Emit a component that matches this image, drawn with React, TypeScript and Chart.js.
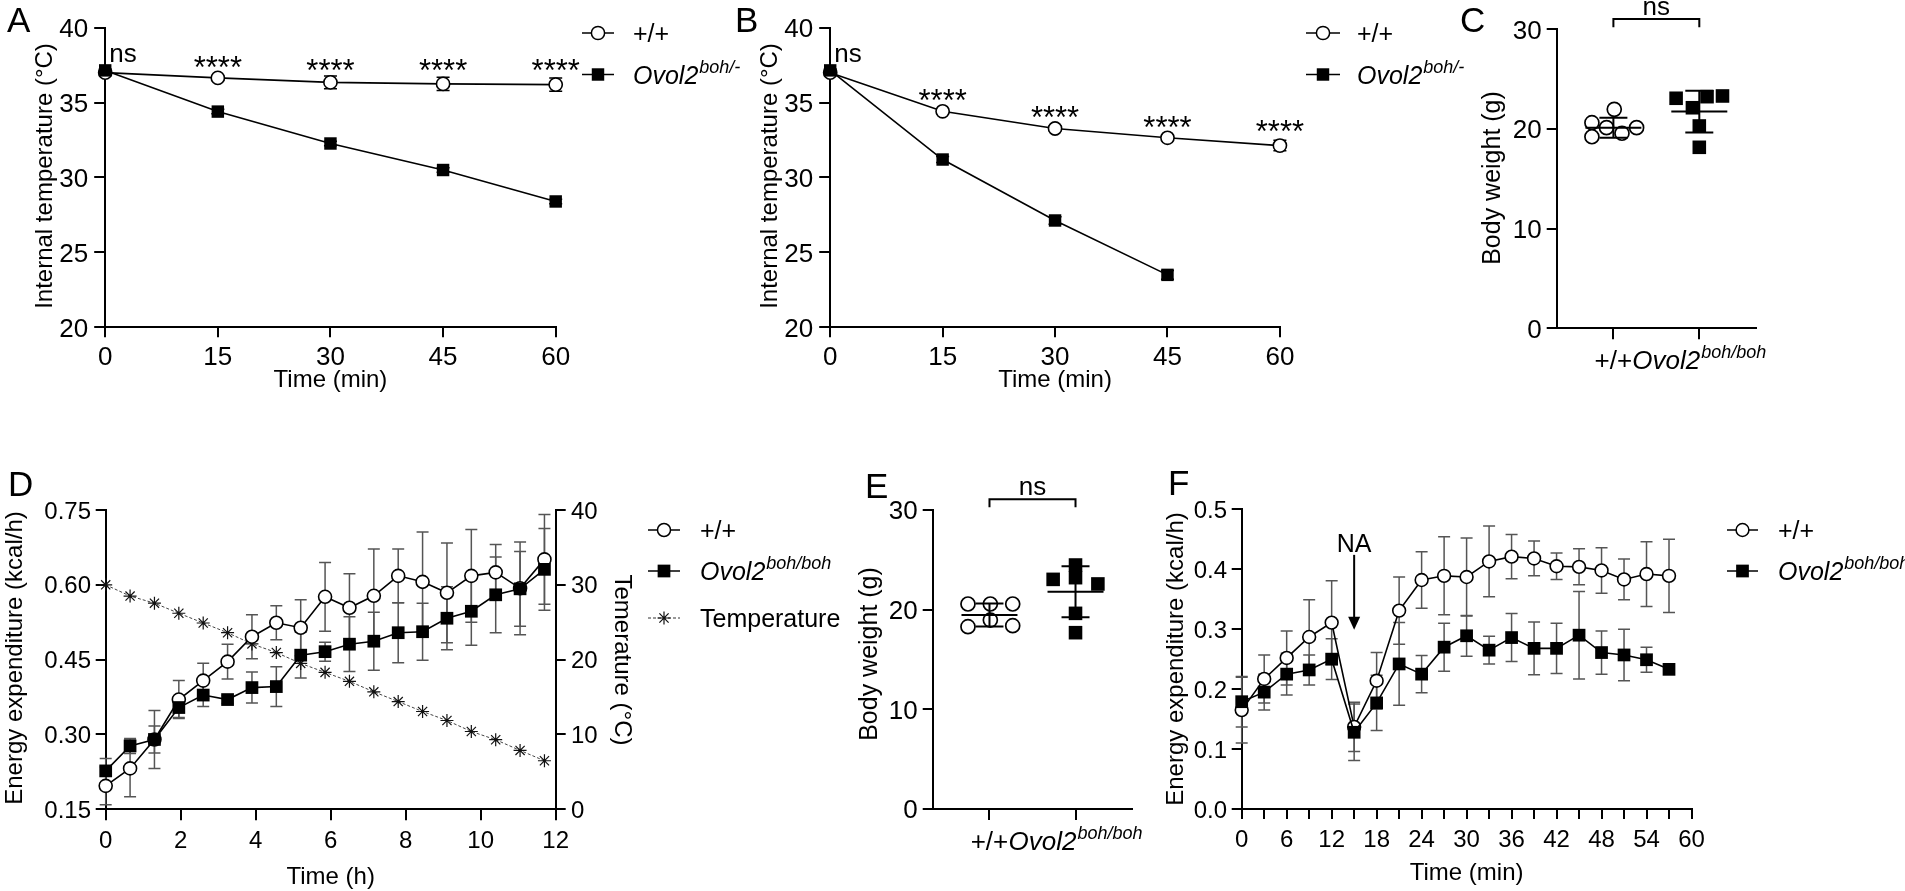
import React, { useEffect, useRef } from 'react';
import { Chart, registerables } from 'chart.js';
Chart.register(...registerables);

const W = 1905;
const H = 891;
const FONT = '"Liberation Sans", Arial, Helvetica, sans-serif';

// ---------- Panel A / B ----------
const abXTicks = [0, 15, 30, 45, 60];
const abXLabels = ['0', '15', '30', '45', '60'];
const abYTicks = [20, 25, 30, 35, 40];
const abYLabels = ['20', '25', '30', '35', '40'];
const tAB = [0, 15, 30, 45, 60];
const aWT = [37.0, 36.65, 36.35, 36.25, 36.2];
const aWTsd = [0.1, 0.15, 0.42, 0.45, 0.45];
const aKO = [37.15, 34.4, 32.27, 30.5, 28.4];
const aKOsd = [0.1, 0.15, 0.15, 0.15, 0.15];
const aStarX = [15, 30, 45, 60];
const aStarY = [37.84, 37.65, 37.65, 37.65];
const tBKO = [0, 15, 30, 45];
const bWT = [37.0, 34.42, 33.27, 32.65, 32.13];
const bWTsd = [0.1, 0.15, 0.15, 0.15, 0.35];
const bKO = [37.15, 31.2, 27.13, 23.5];
const bKOsd = [0.1, 0.2, 0.25, 0.3];
const bStarX = [15, 30, 45, 60];
const bStarY = [35.66, 34.51, 33.84, 33.55];

// ---------- Panel C / E ----------
const ceXTicks = [0, 1];
const ceYTicks = [0, 10, 20, 30];
const ceYLabels = ['0', '10', '20', '30'];
const cWTdx = [-0.25, -0.25, -0.08, 0.01, 0.1, 0.27];
const cWT = [20.63, 19.22, 20.13, 21.97, 19.57, 20.13];
const cKOdx = [-0.27, -0.08, 0.09, 0.27, 0.0, 0.0];
const cKO = [23.08, 22.13, 23.24, 23.31, 20.3, 18.16];
const cMean = [20.13, 21.74];
const cSD = [1.0, 2.1];
const eWTdx = [-0.25, 0.01, 0.27, 0.01, -0.25, 0.27];
const eWT = [20.57, 20.57, 20.57, 18.96, 18.29, 18.39];
const eKOdx = [-0.26, 0.0, 0.0, 0.26, 0.0, 0.0];
const eKO = [23.04, 24.48, 23.21, 22.58, 19.63, 17.69];
const eMean = [19.46, 21.8];
const eSD = [1.15, 2.55];

// ---------- Panel D ----------
const dXTicks = [0, 2, 4, 6, 8, 10, 12];
const dXLabels = ['0', '2', '4', '6', '8', '10', '12'];
const dYTicks = [0.15, 0.3, 0.45, 0.6, 0.75];
const dYLabels = ['0.15', '0.30', '0.45', '0.60', '0.75'];
const dY2Ticks = [0, 10, 20, 30, 40];
const dY2Labels = ['0', '10', '20', '30', '40'];
const dT = [0, 0.65, 1.3, 1.95, 2.6, 3.25, 3.9, 4.55, 5.2, 5.85, 6.5, 7.15, 7.8, 8.45, 9.1, 9.75, 10.4, 11.05, 11.7];
const dWT = [0.197, 0.232, 0.29, 0.37, 0.408, 0.446, 0.496, 0.524, 0.514, 0.576, 0.554, 0.578, 0.618, 0.606, 0.584, 0.618, 0.625, 0.593, 0.651];
const dWTsd = [0.038, 0.057, 0.058, 0.038, 0.035, 0.035, 0.044, 0.034, 0.056, 0.069, 0.068, 0.094, 0.054, 0.1, 0.1, 0.093, 0.056, 0.093, 0.09];
const dKO = [0.227, 0.277, 0.29, 0.354, 0.379, 0.37, 0.394, 0.396, 0.459, 0.466, 0.481, 0.487, 0.504, 0.506, 0.533, 0.547, 0.58, 0.592, 0.631];
const dKOsd = [0.025, 0.015, 0.027, 0.02, 0.023, 0.008, 0.031, 0.04, 0.046, 0.019, 0.055, 0.058, 0.06, 0.057, 0.063, 0.068, 0.076, 0.075, 0.082];
const dTemp = [30.0, 28.5, 27.55, 26.2, 24.9, 23.6, 22.1, 20.95, 19.5, 18.3, 17.1, 15.7, 14.4, 13.07, 11.87, 10.4, 9.3, 7.87, 6.49];

// ---------- Panel F ----------
const fXTicks = [0, 3, 6, 9, 12, 15, 18, 21, 24, 27, 30, 33, 36, 39, 42, 45, 48, 51, 54, 57, 60];
const fXLabels = ['0', '', '6', '', '12', '', '18', '', '24', '', '30', '', '36', '', '42', '', '48', '', '54', '', '60'];
const fYTicks = [0, 0.1, 0.2, 0.3, 0.4, 0.5];
const fYLabels = ['0.0', '0.1', '0.2', '0.3', '0.4', '0.5'];
const fT = [0, 3, 6, 9, 12, 15, 18, 21, 24, 27, 30, 33, 36, 39, 42, 45, 48, 51, 54, 57];
const fWT = [0.165, 0.217, 0.252, 0.287, 0.311, 0.137, 0.214, 0.331, 0.382, 0.389, 0.387, 0.413, 0.421, 0.418, 0.405, 0.404, 0.398, 0.383, 0.392, 0.389];
const fWTsd = [0.055, 0.04, 0.045, 0.062, 0.07, 0.041, 0.047, 0.056, 0.047, 0.065, 0.065, 0.059, 0.037, 0.029, 0.022, 0.03, 0.038, 0.034, 0.054, 0.061];
const fKO = [0.179, 0.195, 0.225, 0.232, 0.25, 0.128, 0.177, 0.242, 0.225, 0.27, 0.289, 0.265, 0.286, 0.268, 0.268, 0.29, 0.261, 0.257, 0.249, 0.233];
const fKOsd = [0.042, 0.03, 0.035, 0.025, 0.034, 0.047, 0.046, 0.069, 0.031, 0.04, 0.034, 0.023, 0.04, 0.044, 0.042, 0.073, 0.036, 0.043, 0.021, 0];
const naX = 15;
const naTextY = 0.429;
const naArrowTop = 0.424;
const naArrowTip = 0.299;

// ---------- helpers ----------
type TOpt = { size: number; align?: CanvasTextAlign; italic?: boolean; rot?: number; color?: string };
function txt(ctx: CanvasRenderingContext2D, s: string, x: number, y: number, o: TOpt) {
  ctx.save();
  ctx.translate(x, y);
  if (o.rot) ctx.rotate(o.rot);
  ctx.font = `${o.italic ? 'italic ' : ''}${o.size}px ${FONT}`;
  ctx.textAlign = o.align || 'left';
  ctx.textBaseline = 'alphabetic';
  ctx.fillStyle = o.color || '#000';
  ctx.fillText(s, 0, 0);
  ctx.restore();
}

function geno(ctx: CanvasRenderingContext2D, x: number, y: number, sup: string, size: number, align: 'left' | 'center', supRatio = 0.7) {
  ctx.save();
  ctx.fillStyle = '#000';
  ctx.textBaseline = 'alphabetic';
  ctx.textAlign = 'left';
  const f1 = `italic ${size}px ${FONT}`;
  const f2 = `italic ${Math.round(size * supRatio)}px ${FONT}`;
  ctx.font = f1;
  const w1 = ctx.measureText('Ovol2').width;
  ctx.font = f2;
  const w2 = ctx.measureText(sup).width;
  const x0 = align === 'center' ? x - (w1 + w2 + 1) / 2 : x;
  ctx.font = f1;
  ctx.fillText('Ovol2', x0, y);
  ctx.font = f2;
  ctx.fillText(sup, x0 + w1 + 1, y - size * 0.42);
  ctx.restore();
}

function yLabels(ctx: CanvasRenderingContext2D, scale: any, ticks: number[], labels: string[], x: number, size: number, align: CanvasTextAlign = 'right') {
  ticks.forEach((v, i) => txt(ctx, labels[i], x, scale.getPixelForValue(v) + size * 0.358, { size, align }));
}
function xLabels(ctx: CanvasRenderingContext2D, scale: any, ticks: number[], labels: string[], y: number, size: number) {
  ticks.forEach((v, i) => {
    if (labels[i]) txt(ctx, labels[i], scale.getPixelForValue(v), y, { size, align: 'center' });
  });
}

function errBars(chart: any, xs: number[], ys: number[], es: number[], color = '#000', cap = 6.5, yId = 'y') {
  const ctx = chart.ctx as CanvasRenderingContext2D;
  const sx = chart.scales.x;
  const sy = chart.scales[yId];
  ctx.save();
  ctx.strokeStyle = color;
  ctx.lineWidth = 1.5;
  xs.forEach((x, i) => {
    const e = es[i];
    if (!e || ys[i] == null) return;
    const px = sx.getPixelForValue(x);
    const p1 = sy.getPixelForValue(ys[i] + e);
    const p2 = sy.getPixelForValue(ys[i] - e);
    ctx.beginPath();
    ctx.moveTo(px, p1);
    ctx.lineTo(px, p2);
    ctx.moveTo(px - cap, p1);
    ctx.lineTo(px + cap, p1);
    ctx.moveTo(px - cap, p2);
    ctx.lineTo(px + cap, p2);
    ctx.stroke();
  });
  ctx.restore();
}

function marker(ctx: CanvasRenderingContext2D, kind: string, x: number, y: number, r: number) {
  ctx.save();
  if (kind === 'circle') {
    ctx.beginPath();
    ctx.arc(x, y, r, 0, Math.PI * 2);
    ctx.fillStyle = '#fff';
    ctx.fill();
    ctx.lineWidth = 1.5;
    ctx.strokeStyle = '#000';
    ctx.stroke();
  } else if (kind === 'square') {
    const s = r * Math.SQRT1_2;
    ctx.fillStyle = '#000';
    ctx.fillRect(x - s, y - s, 2 * s, 2 * s);
  } else {
    ctx.strokeStyle = '#111';
    ctx.lineWidth = 1.2;
    ctx.beginPath();
    for (let k = 0; k < 4; k++) {
      const a = (k * Math.PI) / 4;
      ctx.moveTo(x - r * Math.cos(a), y - r * Math.sin(a));
      ctx.lineTo(x + r * Math.cos(a), y + r * Math.sin(a));
    }
    ctx.stroke();
  }
  ctx.restore();
}

function legendRow(ctx: CanvasRenderingContext2D, kind: string, x1: number, x2: number, y: number, r: number, dashed = false) {
  ctx.save();
  ctx.strokeStyle = dashed ? '#333' : '#000';
  ctx.lineWidth = dashed ? 1 : 1.5;
  if (dashed) ctx.setLineDash([3, 2]);
  ctx.beginPath();
  ctx.moveTo(x1, y);
  ctx.lineTo(x2, y);
  ctx.stroke();
  ctx.restore();
  marker(ctx, kind, (x1 + x2) / 2, y, r);
}

function meanSD(chart: any, cx: number, mean: number, sd: number) {
  const ctx = chart.ctx as CanvasRenderingContext2D;
  const px = chart.scales.x.getPixelForValue(cx);
  const sy = chart.scales.y;
  const pm = sy.getPixelForValue(mean);
  const pu = sy.getPixelForValue(mean + sd);
  const pl = sy.getPixelForValue(mean - sd);
  ctx.save();
  ctx.strokeStyle = '#000';
  ctx.lineWidth = 2;
  ctx.beginPath();
  ctx.moveTo(px - 28, pm);
  ctx.lineTo(px + 28, pm);
  ctx.moveTo(px - 14, pu);
  ctx.lineTo(px + 14, pu);
  ctx.moveTo(px - 14, pl);
  ctx.lineTo(px + 14, pl);
  ctx.moveTo(px, pu);
  ctx.lineTo(px, pl);
  ctx.stroke();
  ctx.restore();
}

function bracket(chart: any, yTop: number, yDrop: number, size: number) {
  const ctx = chart.ctx as CanvasRenderingContext2D;
  const x1 = chart.scales.x.getPixelForValue(ceXTicks[0]);
  const x2 = chart.scales.x.getPixelForValue(ceXTicks[1]);
  const pt = chart.scales.y.getPixelForValue(yTop);
  const pd = chart.scales.y.getPixelForValue(yDrop);
  ctx.save();
  ctx.strokeStyle = '#000';
  ctx.lineWidth = 2;
  ctx.beginPath();
  ctx.moveTo(x1, pd);
  ctx.lineTo(x1, pt);
  ctx.lineTo(x2, pt);
  ctx.lineTo(x2, pd);
  ctx.stroke();
  ctx.restore();
  txt(ctx, 'ns', (x1 + x2) / 2, pt - 4, { size, align: 'center' });
}

function linAxis(pos: string, min: number, max: number, ticks: number[], tl = 10) {
  return {
    type: 'linear',
    position: pos,
    min,
    max,
    afterBuildTicks: (s: any) => {
      s.ticks = ticks.map((v) => ({ value: v }));
    },
    afterFit: (s: any) => {
      if (pos === 'bottom') s.height = 0;
      else s.width = 0;
    },
    ticks: { display: false },
    grid: { display: true, drawOnChartArea: false, drawTicks: true, tickLength: tl, color: '#000', lineWidth: 2 },
    border: { display: true, color: '#000', width: 2 },
  };
}

function baseOpts(l: number, t: number, r: number, b: number, scales: any) {
  return {
    responsive: false,
    animation: false,
    events: [],
    devicePixelRatio: 1,
    layout: { padding: { left: l, top: t, right: W - r, bottom: H - b } },
    plugins: { legend: { display: false }, tooltip: { enabled: false }, title: { display: false } },
    scales,
  };
}

function circleDs(xs: number[], ys: number[], r: number, extra: any = {}) {
  return {
    type: 'line',
    data: xs.map((x, i) => ({ x, y: ys[i] })),
    borderColor: '#000',
    borderWidth: 1.6,
    pointStyle: 'circle',
    pointRadius: r,
    pointBackgroundColor: '#fff',
    pointBorderColor: '#000',
    pointBorderWidth: 1.6,
    clip: false,
    tension: 0,
    fill: false,
    ...extra,
  };
}
function squareDs(xs: number[], ys: number[], r: number, extra: any = {}) {
  return {
    type: 'line',
    data: xs.map((x, i) => ({ x, y: ys[i] })),
    borderColor: '#000',
    borderWidth: 1.6,
    pointStyle: 'rect',
    pointRadius: r,
    pointBackgroundColor: '#000',
    pointBorderColor: '#000',
    pointBorderWidth: 0,
    clip: false,
    tension: 0,
    fill: false,
    ...extra,
  };
}

// ---------- chart builders ----------
function makeTemp(which: 'A' | 'B') {
  const isA = which === 'A';
  const L = isA ? 105.2 : 830.2;
  const R = isA ? 555.7 : 1279.9;
  const T = 27.7;
  const B = 327.3;
  const wt = isA ? aWT : bWT;
  const wtSd = isA ? aWTsd : bWTsd;
  const koX = isA ? tAB : tBKO;
  const ko = isA ? aKO : bKO;
  const koSd = isA ? aKOsd : bKOsd;
  const starX = isA ? aStarX : bStarX;
  const starY = isA ? aStarY : bStarY;
  const legX1 = isA ? 582 : 1306;
  const legX2 = isA ? 614 : 1340;
  const legT = isA ? 633 : 1357;
  return {
    type: 'line',
    data: { datasets: [squareDs(koX, ko, 8.8), circleDs(tAB, wt, 6.6)] },
    options: baseOpts(L, T, R, B, { x: linAxis('bottom', 0, 60, abXTicks), y: linAxis('left', 20, 40, abYTicks, 11) }),
    plugins: [
      {
        id: 'deco' + which,
        beforeDatasetsDraw(c: any) {
          errBars(c, tAB, wt, wtSd);
          errBars(c, koX, ko, koSd);
        },
        afterDraw(c: any) {
          const ctx = c.ctx as CanvasRenderingContext2D;
          const sx = c.scales.x;
          const sy = c.scales.y;
          yLabels(ctx, sy, abYTicks, abYLabels, L - 17, 26);
          xLabels(ctx, sx, abXTicks, abXLabels, 365, 26);
          txt(ctx, 'Time (min)', (L + R) / 2, 387, { size: 24, align: 'center' });
          txt(ctx, 'Internal temperature (°C)', L - 53, 176, { size: 24, align: 'center', rot: -Math.PI / 2 });
          txt(ctx, which, isA ? 7 : 735, 32, { size: 35 });
          txt(ctx, 'ns', sx.getPixelForValue(0) + 4, 61.7, { size: 26 });
          starX.forEach((x, i) => {
            txt(ctx, '****', sx.getPixelForValue(x), sy.getPixelForValue(starY[i]) + 18, { size: 31, align: 'center' });
          });
          legendRow(ctx, 'circle', legX1, legX2, 33, 6.6);
          txt(ctx, '+/+', legT, 33 + 9, { size: 25 });
          legendRow(ctx, 'square', legX1, legX2, 74.5, 8.8);
          geno(ctx, legT, 74.5 + 9, 'boh/-', 25, 'left', 0.72);
        },
      },
    ],
  };
}

function makeWeight(which: 'C' | 'E') {
  const isC = which === 'C';
  const L = isC ? 1556.7 : 932.7;
  const R = isC ? 1756 : 1132.3;
  const T = isC ? 29.3 : 510;
  const B = isC ? 328.3 : 809;
  const wdx = isC ? cWTdx : eWTdx;
  const wv = isC ? cWT : eWT;
  const kdx = isC ? cKOdx : eKOdx;
  const kv = isC ? cKO : eKO;
  const mean = isC ? cMean : eMean;
  const sd = isC ? cSD : eSD;
  return {
    type: 'scatter',
    data: {
      datasets: [
        {
          data: wdx.map((d, i) => ({ x: ceXTicks[0] + d, y: wv[i] })),
          pointStyle: 'circle',
          pointRadius: 7,
          pointBackgroundColor: '#fff',
          pointBorderColor: '#000',
          pointBorderWidth: 1.7,
          showLine: false,
          clip: false,
        },
        {
          data: kdx.map((d, i) => ({ x: ceXTicks[1] + d, y: kv[i] })),
          pointStyle: 'rect',
          pointRadius: 9.6,
          pointBackgroundColor: '#000',
          pointBorderWidth: 0,
          showLine: false,
          clip: false,
        },
      ],
    },
    options: baseOpts(L, T, R, B, { x: linAxis('bottom', -0.66, 1.66, ceXTicks, 11), y: linAxis('left', 0, 30, ceYTicks) }),
    plugins: [
      {
        id: 'deco' + which,
        afterDatasetsDraw(c: any) {
          meanSD(c, ceXTicks[0], mean[0], sd[0]);
          meanSD(c, ceXTicks[1], mean[1], sd[1]);
        },
        afterDraw(c: any) {
          const ctx = c.ctx as CanvasRenderingContext2D;
          const sx = c.scales.x;
          const sy = c.scales.y;
          yLabels(ctx, sy, ceYTicks, ceYLabels, L - 15, 26);
          const base = isC ? 369 : 850;
          txt(ctx, '+/+', sx.getPixelForValue(ceXTicks[0]), base, { size: 26, align: 'center' });
          geno(ctx, sx.getPixelForValue(ceXTicks[1]), base, 'boh/boh', 26, 'center');
          txt(ctx, 'Body weight (g)', isC ? 1500 : 876.7, isC ? 178 : 654, { size: 25, align: 'center', rot: -Math.PI / 2 });
          txt(ctx, which, isC ? 1460 : 865, isC ? 32 : 498, { size: 35 });
          bracket(c, isC ? 31.03 : 31.07, isC ? 30.2 : 30.27, 26);
        },
      },
    ],
  };
}

function makeD() {
  const L = 105.7;
  const R = 555.7;
  const T = 510;
  const B = 809.3;
  return {
    type: 'line',
    data: {
      datasets: [
        squareDs(dT, dKO, 9),
        circleDs(dT, dWT, 6.5),
        {
          type: 'line',
          yAxisID: 'y2',
          data: dT.map((x, i) => ({ x, y: dTemp[i] })),
          borderColor: '#444',
          borderWidth: 1,
          borderDash: [3, 2],
          pointStyle: 'star',
          pointRadius: 6.5,
          pointBorderColor: '#111',
          pointBorderWidth: 1.2,
          pointBackgroundColor: '#111',
          clip: false,
          tension: 0,
          fill: false,
        },
      ],
    },
    options: baseOpts(L, T, R, B, {
      x: linAxis('bottom', 0, 12, dXTicks, 11),
      y: linAxis('left', 0.15, 0.75, dYTicks, 10),
      y2: linAxis('right', 0, 40, dY2Ticks, 10),
    }),
    plugins: [
      {
        id: 'decoD',
        beforeDatasetsDraw(c: any) {
          errBars(c, dT, dWT, dWTsd, '#555', 6);
          errBars(c, dT, dKO, dKOsd, '#555', 6);
        },
        afterDraw(c: any) {
          const ctx = c.ctx as CanvasRenderingContext2D;
          yLabels(ctx, c.scales.y, dYTicks, dYLabels, 91, 24);
          yLabels(ctx, c.scales.y2, dY2Ticks, dY2Labels, 571, 24, 'left');
          xLabels(ctx, c.scales.x, dXTicks, dXLabels, 848, 24);
          txt(ctx, 'Time (h)', (L + R) / 2, 884, { size: 24, align: 'center' });
          txt(ctx, 'Energy expenditure (kcal/h)', 22, 658, { size: 24, align: 'center', rot: -Math.PI / 2 });
          txt(ctx, 'Temerature (°C)', 615, 660, { size: 24, align: 'center', rot: Math.PI / 2 });
          txt(ctx, 'D', 8, 496, { size: 35 });
          legendRow(ctx, 'circle', 648, 680, 530, 6.5);
          txt(ctx, '+/+', 700, 530 + 8.8, { size: 25 });
          legendRow(ctx, 'square', 648, 680, 571, 9);
          geno(ctx, 700, 571 + 8.8, 'boh/boh', 25, 'left', 0.72);
          legendRow(ctx, 'star', 648, 680, 618, 6.5, true);
          txt(ctx, 'Temperature', 700, 618 + 8.8, { size: 25 });
        },
      },
    ],
  };
}

function makeF() {
  const L = 1241.7;
  const R = 1691.5;
  const T = 509.3;
  const B = 809;
  return {
    type: 'line',
    data: { datasets: [squareDs(fT, fKO, 9), circleDs(fT, fWT, 6.4)] },
    options: baseOpts(L, T, R, B, {
      x: linAxis('bottom', 0, 60, fXTicks, 10),
      y: linAxis('left', 0, 0.5, fYTicks, 10),
    }),
    plugins: [
      {
        id: 'decoF',
        beforeDatasetsDraw(c: any) {
          errBars(c, fT, fWT, fWTsd, '#555', 6);
          errBars(c, fT, fKO, fKOsd, '#555', 6);
        },
        afterDraw(c: any) {
          const ctx = c.ctx as CanvasRenderingContext2D;
          const sx = c.scales.x;
          const sy = c.scales.y;
          yLabels(ctx, sy, fYTicks, fYLabels, 1227, 24);
          xLabels(ctx, sx, fXTicks, fXLabels, 847, 24);
          txt(ctx, 'Time (min)', (L + R) / 2, 880, { size: 24, align: 'center' });
          txt(ctx, 'Energy expenditure (kcal/h)', 1183, 659, { size: 24, align: 'center', rot: -Math.PI / 2 });
          txt(ctx, 'F', 1168, 495, { size: 35 });
          // NA arrow
          const ax = sx.getPixelForValue(naX);
          txt(ctx, 'NA', ax, sy.getPixelForValue(naTextY), { size: 25, align: 'center' });
          const pTop = sy.getPixelForValue(naArrowTop);
          const pTip = sy.getPixelForValue(naArrowTip);
          ctx.save();
          ctx.strokeStyle = '#000';
          ctx.fillStyle = '#000';
          ctx.lineWidth = 2;
          ctx.beginPath();
          ctx.moveTo(ax, pTop);
          ctx.lineTo(ax, pTip - 10);
          ctx.stroke();
          ctx.beginPath();
          ctx.moveTo(ax - 6, pTip - 13);
          ctx.lineTo(ax + 6, pTip - 13);
          ctx.lineTo(ax, pTip);
          ctx.closePath();
          ctx.fill();
          ctx.restore();
          legendRow(ctx, 'circle', 1727, 1758, 530, 6.4);
          txt(ctx, '+/+', 1778, 530 + 8.8, { size: 25 });
          legendRow(ctx, 'square', 1727, 1758, 571, 9);
          geno(ctx, 1778, 571 + 8.8, 'boh/boh', 25, 'left', 0.72);
        },
      },
    ],
  };
}

function Panel({ make }: { make: () => any }) {
  const ref = useRef<HTMLCanvasElement>(null);
  useEffect(() => {
    const chart = new Chart(ref.current as HTMLCanvasElement, make());
    return () => chart.destroy();
  }, []);
  return <canvas ref={ref} width={W} height={H} style={{ position: 'absolute', left: 0, top: 0, width: W, height: H }} />;
}

export default function App() {
  return (
    <div style={{ position: 'absolute', left: 0, top: 0, width: W, height: H, background: '#fff', overflow: 'hidden' }}>
      <Panel make={() => makeTemp('A')} />
      <Panel make={() => makeTemp('B')} />
      <Panel make={() => makeWeight('C')} />
      <Panel make={makeD} />
      <Panel make={() => makeWeight('E')} />
      <Panel make={makeF} />
    </div>
  );
}
